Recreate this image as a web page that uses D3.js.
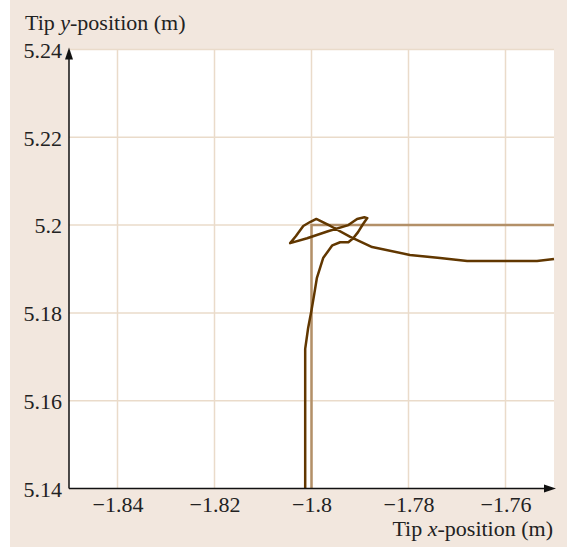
<!DOCTYPE html>
<html><head><meta charset="utf-8">
<script src="https://cdn.jsdelivr.net/npm/d3@7"></script>
<style>body{margin:0;background:#fff}svg{display:block}</style>
</head><body>
<svg id="c" width="567" height="548"></svg>
<script>
const xTicks = [-1.84, -1.82, -1.8, -1.78, -1.76];
const yTicks = [5.14, 5.16, 5.18, 5.2, 5.22, 5.24];
const xTickLabels = ["\u22121.84", "\u22121.82", "\u22121.8", "\u22121.78", "\u22121.76"];
const yTickLabels = ["5.14", "5.16", "5.18", "5.2", "5.22", "5.24"];
// reference (desired) tip path
const refX = [-1.8, -1.8, -1.75];
const refY = [5.14, 5.2, 5.2];
// actual tip trajectory
const tipX = [-1.8013, -1.8013, -1.8007, -1.8000, -1.7994, -1.7989, -1.7976, -1.7957, -1.7941, -1.7924, -1.7914, -1.7904, -1.7894, -1.7885, -1.7891, -1.7906, -1.7924, -1.7966, -1.8009, -1.8044, -1.8032, -1.8017, -1.8003, -1.7990, -1.7984, -1.7961, -1.7920, -1.7875, -1.7797, -1.7735, -1.7679, -1.7535, -1.7500];
const tipY = [5.1400, 5.1718, 5.1765, 5.1806, 5.1845, 5.1879, 5.1925, 5.1954, 5.1961, 5.1961, 5.1970, 5.1984, 5.2002, 5.2016, 5.2018, 5.2014, 5.2000, 5.1986, 5.1970, 5.1959, 5.1975, 5.1998, 5.2007, 5.2014, 5.2011, 5.1998, 5.1973, 5.1950, 5.1932, 5.1925, 5.1918, 5.1918, 5.1923];

const svg = d3.select("#c");
const x = d3.scaleLinear().domain([-1.85, -1.75]).range([69, 554]);
const y = d3.scaleLinear().domain([5.14, 5.24]).range([488.5, 49.5]);
const font = "'Liberation Serif','Times New Roman',serif";
const fs = 22;

svg.append("rect").attr("x", 10).attr("y", 0).attr("width", 557).attr("height", 547).attr("fill", "#f2e7de");
svg.append("rect").attr("x", x(-1.85)).attr("y", y(5.24)).attr("width", x(-1.75) - x(-1.85)).attr("height", y(5.14) - y(5.24)).attr("fill", "#fff");

const grid = svg.append("g").attr("stroke", "#eadbca").attr("stroke-width", 1.5);
grid.selectAll("line.v").data(xTicks).join("line")
  .attr("x1", d => x(d)).attr("x2", d => x(d)).attr("y1", y(5.14)).attr("y2", y(5.24));
grid.selectAll("line.h").data(yTicks.slice(1)).join("line")
  .attr("y1", d => y(d)).attr("y2", d => y(d)).attr("x1", x(-1.85)).attr("x2", x(-1.75));

const line = d3.line().x(d => x(d[0])).y(d => y(d[1]));
svg.append("path").datum(refX.map((v, i) => [v, refY[i]]))
  .attr("d", line).attr("fill", "none").attr("stroke", "#b39068").attr("stroke-width", 2.5);
svg.append("path").datum(tipX.map((v, i) => [v, tipY[i]]))
  .attr("d", line).attr("fill", "none")
  .attr("stroke", "#613700").attr("stroke-width", 2.5).attr("stroke-linejoin", "round");

// axes
const xAxis = d3.axisBottom(x).tickValues(xTicks).tickSize(0).tickFormat((d, i) => xTickLabels[i]);
const gx = svg.append("g").attr("transform", `translate(0,${y(5.14)})`).call(xAxis);
gx.select(".domain").remove();
gx.selectAll("text").attr("font-family", font).attr("font-size", fs).attr("fill", "#222").attr("dy", "0.95em");
const yAxis = d3.axisLeft(y).tickValues(yTicks).tickSize(0).tickFormat((d, i) => yTickLabels[i]);
const gy = svg.append("g").attr("transform", `translate(${x(-1.85)},0)`).call(yAxis);
gy.select(".domain").remove();
gy.selectAll("text").attr("font-family", font).attr("font-size", fs).attr("fill", "#222").attr("x", -7).attr("dy", "0.35em");

const x0 = x(-1.85), y0 = y(5.14);
svg.append("line").attr("x1", x0).attr("x2", x0).attr("y1", y0).attr("y2", y(5.24) + 6).attr("stroke", "#111").attr("stroke-width", 1.5);
svg.append("line").attr("x1", x0).attr("x2", x(-1.75) - 6).attr("y1", y0).attr("y2", y0).attr("stroke", "#111").attr("stroke-width", 1.5);
svg.append("path").attr("d", `M${x0},${y(5.24) - 2} L${x0 - 4},${y(5.24) + 10} L${x0 + 4},${y(5.24) + 10}Z`).attr("fill", "#111");
svg.append("path").attr("d", `M${x(-1.75) + 2},${y0} L${x(-1.75) - 10},${y0 - 4} L${x(-1.75) - 10},${y0 + 4}Z`).attr("fill", "#111");

const ty = svg.append("text").attr("x", 25).attr("y", 30).attr("font-family", font).attr("font-size", fs).attr("fill", "#222");
ty.append("tspan").text("Tip ");
ty.append("tspan").attr("font-style", "italic").text("y");
ty.append("tspan").text("-position (m)");
const tx = svg.append("text").attr("x", 553).attr("y", 536).attr("text-anchor", "end").attr("font-family", font).attr("font-size", fs).attr("fill", "#222");
tx.append("tspan").text("Tip ");
tx.append("tspan").attr("font-style", "italic").text("x");
tx.append("tspan").text("-position (m)");
</script>
</body></html>
